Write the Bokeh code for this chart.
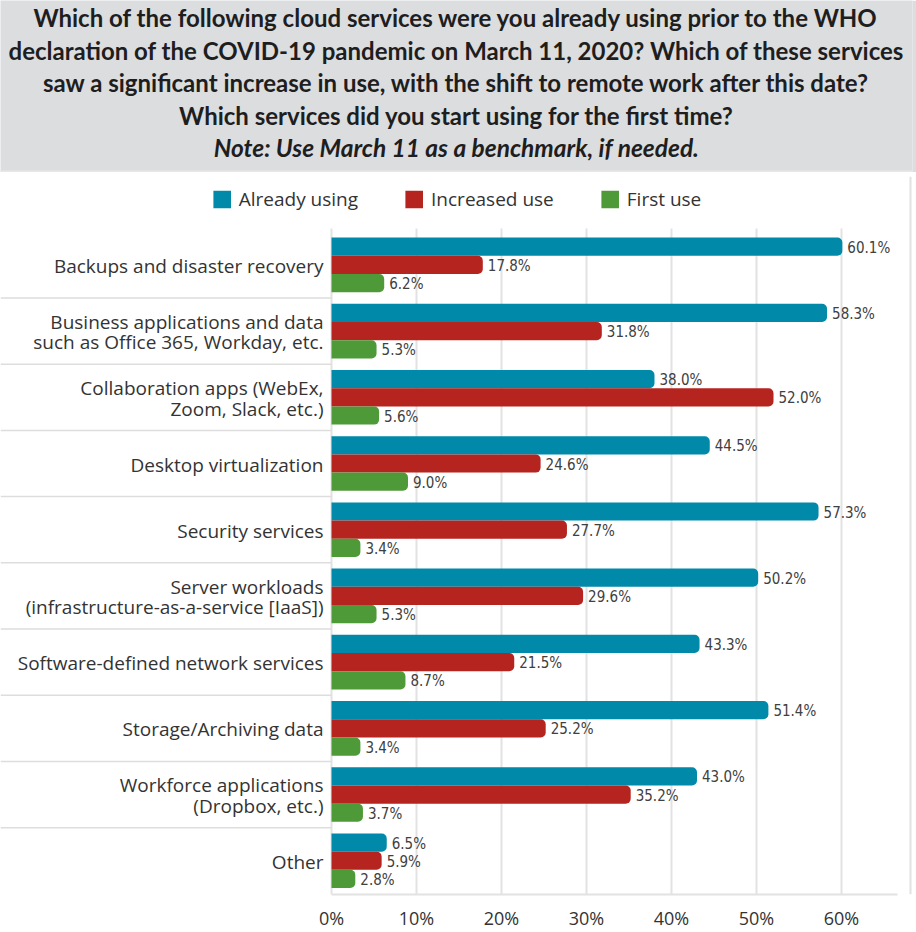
from bokeh.plotting import figure
from bokeh.models import (ColumnDataSource, Range1d, FixedTicker, PrintfTickFormatter,
                          Legend, LegendItem, Span)
from bokeh.transform import dodge
from bokeh.core.properties import value
from bokeh.layouts import column
from bokeh.embed import file_html
from bokeh.resources import INLINE

# ---------------- data ----------------
categories = [
    "Backups and disaster recovery",
    "Business applications and data\nsuch as Office 365, Workday, etc.",
    "Collaboration apps (WebEx,\nZoom, Slack, etc.)",
    "Desktop virtualization",
    "Security services",
    "Server workloads\n(infrastructure-as-a-service [IaaS])",
    "Software-defined network services",
    "Storage/Archiving data",
    "Workforce applications\n(Dropbox, etc.)",
    "Other",
]
already_using = [60.1, 58.3, 38.0, 44.5, 57.3, 50.2, 43.3, 51.4, 43.0, 6.5]
increased_use = [17.8, 31.8, 52.0, 24.6, 27.7, 29.6, 21.5, 25.2, 35.2, 5.9]
first_use = [6.2, 5.3, 5.6, 9.0, 3.4, 5.3, 8.7, 3.4, 3.7, 2.8]
series_names = ["Already using", "Increased use", "First use"]
x_ticks = [0, 10, 20, 30, 40, 50, 60]

title_lines = [
    "Which of the following cloud services were you already using prior to the WHO",
    "declaration of the COVID-19 pandemic on March 11, 2020? Which of these services",
    "saw a significant increase in use, with the shift to remote work after this date?",
    "Which services did you start using for the first time?",
]
note_line = "Note: Use March 11 as a benchmark, if needed."

# ---------------- style / layout ----------------
W = 916
HEADER_H = 172
MAIN_H = 932 - HEADER_H
ZERO_PX = 331          # pixel position of 0%
PX_PER_PCT = 8.5       # pixels per 1 %
FRAME_RIGHT = 912
X_START = -ZERO_PX / PX_PER_PCT
X_END = (FRAME_RIGHT - ZERO_PX) / PX_PER_PCT
AXIS_END = (897 - ZERO_PX) / PX_PER_PCT
BORDER_X = (910 - ZERO_PX) / PX_PER_PCT

TEAL = "#0089a9"
RED = "#b5241f"
GREEN = "#4f9a38"
GRAY_BG = "#dcdddf"
TEXT = "#333333"
GRID = "#e2e2e2"
FONT = "Open Sans"
NARROW = "DejaVu Sans Condensed"

BAR_H = 0.275
OFF = 0.275

# ---------------- header ----------------
header = figure(width=W, height=HEADER_H, x_range=Range1d(0, W), y_range=Range1d(HEADER_H, 0),
                toolbar_location=None, output_backend="svg", min_border=0,
                background_fill_color=GRAY_BG, border_fill_color=GRAY_BG,
                outline_line_color=None)
header.axis.visible = False
header.grid.visible = False
hsrc = ColumnDataSource(dict(x=[W / 2] * len(title_lines), y=[17, 49.5, 82, 114.5], t=title_lines))
header.text(x="x", y="y", text="t", source=hsrc, text_align="center", text_baseline="middle",
            text_font=value("Lato"), text_font_style="bold", text_font_size="24px",
            text_color="#1e1e1e")
header.text(x=[W / 2], y=[147], text=[note_line], text_align="center", text_baseline="middle",
            text_font=value("Lato"), text_font_style="bold italic", text_font_size="24.5px",
            text_color="#1e1e1e")
header.segment(x0=[0], x1=[W], y0=[171], y1=[171], line_color="#e8e8e8", line_width=2)

# ---------------- main chart ----------------
n = len(categories)
ypos = [n - 1 - i for i in range(n)]
src = ColumnDataSource(dict(
    y=ypos, cat=categories,
    a=already_using, b=increased_use, c=first_use,
    la=[f"{v:.1f}%" for v in already_using],
    lb=[f"{v:.1f}%" for v in increased_use],
    lc=[f"{v:.1f}%" for v in first_use],
))

p = figure(width=W, height=MAIN_H, x_range=Range1d(X_START, X_END),
           y_range=Range1d(-0.51, n - 1 + 1.335),
           toolbar_location=None, output_backend="svg",
           min_border_left=0, min_border_right=W - FRAME_RIGHT, min_border_top=4,
           min_border_bottom=0, outline_line_color=None,
           background_fill_color="white", border_fill_color="white")

p.yaxis.visible = False
p.ygrid.visible = False
p.xgrid.grid_line_color = GRID
p.xgrid.grid_line_width = 2
p.xgrid.cross_bounds = (-0.51, n - 1 + 0.55)

xa = p.xaxis[0]
xa.ticker = FixedTicker(ticks=x_ticks)
xa.formatter = PrintfTickFormatter(format="%d%%")
xa.bounds = (0, AXIS_END)
xa.axis_line_color = GRID
xa.axis_line_width = 2
xa.major_tick_line_color = None
xa.minor_tick_line_color = None
xa.major_label_standoff = 5
xa.major_label_text_font = FONT
xa.major_label_text_font_size = "18px"
xa.major_label_text_color = TEXT

radius = (0, 5, 5, 0)
ra = p.hbar(y=dodge("y", OFF), left=0, right="a", height=BAR_H, source=src,
            fill_color=TEAL, line_color=None, border_radius=radius)
rb = p.hbar(y="y", left=0, right="b", height=BAR_H, source=src,
            fill_color=RED, line_color=None, border_radius=radius)
rc = p.hbar(y=dodge("y", -OFF), left=0, right="c", height=BAR_H, source=src,
            fill_color=GREEN, line_color=None, border_radius=radius)

for col, lab, off in (("a", "la", OFF), ("b", "lb", 0), ("c", "lc", -OFF)):
    p.text(x=col, y=dodge("y", off), text=lab, source=src, x_offset=5, y_offset=1,
           text_align="left", text_baseline="middle", text_font=value(NARROW),
           text_font_size="15px", text_color="#404040")

# category labels
p.text(x=0, y="y", text="cat", source=src, x_offset=-8, y_offset=1, text_align="right",
       text_baseline="middle", text_font=value(FONT), text_font_size="19px",
       text_color=TEXT, text_line_height=0.8)

# separators in the label area
sep_y = [k + 0.5 for k in range(n - 1)]
p.segment(x0=X_START, x1=0, y0=sep_y, y1=sep_y, line_color="#dddddd", line_width=1.5)

p.add_layout(Span(location=BORDER_X, dimension="height", line_color=GRID, line_width=2))

legend = Legend(items=[LegendItem(label=series_names[0], renderers=[ra]),
                       LegendItem(label=series_names[1], renderers=[rb]),
                       LegendItem(label=series_names[2], renderers=[rc])],
                orientation="horizontal", location="top_center", margin=0, padding=10,
                spacing=45, glyph_width=22, glyph_height=22, label_standoff=6,
                label_text_font=FONT, label_text_font_size="19px", label_text_color=TEXT,
                background_fill_alpha=0, border_line_alpha=0)
p.add_layout(legend)

layout = column(header, p, spacing=0)
open("out.html", "w").write(file_html(layout, INLINE))
